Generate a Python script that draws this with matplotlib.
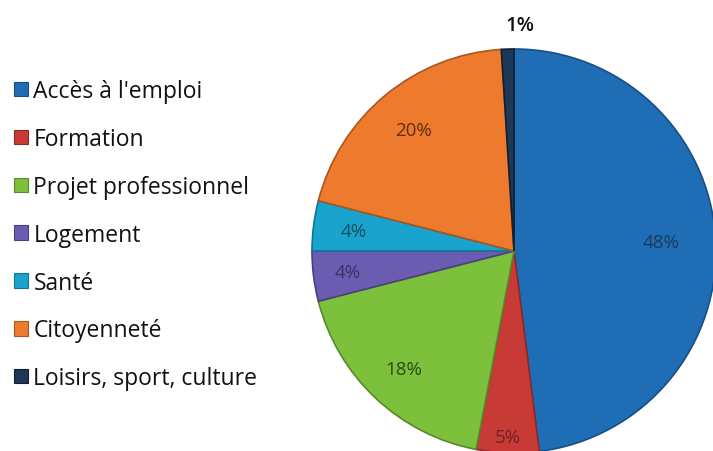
import matplotlib
matplotlib.use("Agg")
import matplotlib.pyplot as plt
import numpy as np

categories = ["Accès à l'emploi", "Formation", "Projet professionnel", "Logement",
              "Santé", "Citoyenneté", "Loisirs, sport, culture"]
values = [48, 5, 18, 4, 4, 20, 1]
colors = ["#1f6db5", "#c83a36", "#7cc03c", "#6a5cb0", "#1aa3cc", "#ee7a2e", "#1e3857"]
edges = ["#164f85", "#8e2926", "#578a2a", "#4a3f80", "#137594", "#a9561f", "#111f30"]

plt.rcParams['font.family'] = ['Open Sans', 'DejaVu Sans']

W, H = 713, 452
fig = plt.figure(figsize=(W / 100, H / 100), dpi=100)
cx, cy, r = 514, 252, 202
ax = fig.add_axes([(cx - r) / W, (H - cy - r) / H, 2 * r / W, 2 * r / H])

wedges, _ = ax.pie(values, colors=colors, startangle=90, counterclock=False,
                   radius=1, wedgeprops=dict(linewidth=1.2))
for w, ec in zip(wedges, edges):
    w.set_edgecolor(ec)
ax.set_xlim(-1, 1)
ax.set_ylim(-1, 1)
ax.axis('off')

# label distance per slice (the 1% one sits outside)
dists = [0.73, 0.92, 0.8, 0.83, 0.8, 0.78, 1.12]
txtcol = ["#1a3a5c", "#6b2422", "#2e4a17", "#3a3466", "#124e62", "#5a3012", "#111111"]
for w, v, d, tc in zip(wedges, values, dists, txtcol):
    ang = np.deg2rad((w.theta1 + w.theta2) / 2)
    x, y = d * np.cos(ang), d * np.sin(ang)
    if v == 1:
        x = 0.03
        ax.text(x, y, f"{v}%", ha='center', va='center', fontsize=14.5,
                fontweight='semibold', color=tc, clip_on=False)
    else:
        ax.text(x, y, f"{v}%", ha='center', va='center', fontsize=13.5, color=tc)

handles = [plt.Rectangle((0, 0), 1, 1, facecolor=c, edgecolor=e, linewidth=0.8)
           for c, e in zip(colors, edges)]
fig.legend(handles, categories, loc='upper left', bbox_to_anchor=(-0.003, 0.858),
           frameon=False, fontsize=16.5, handlelength=0.6, handleheight=0.6,
           handletextpad=0.25, labelspacing=1.04, borderaxespad=0.3,
           labelcolor='#111111')

fig.savefig("out.png", dpi=100)
